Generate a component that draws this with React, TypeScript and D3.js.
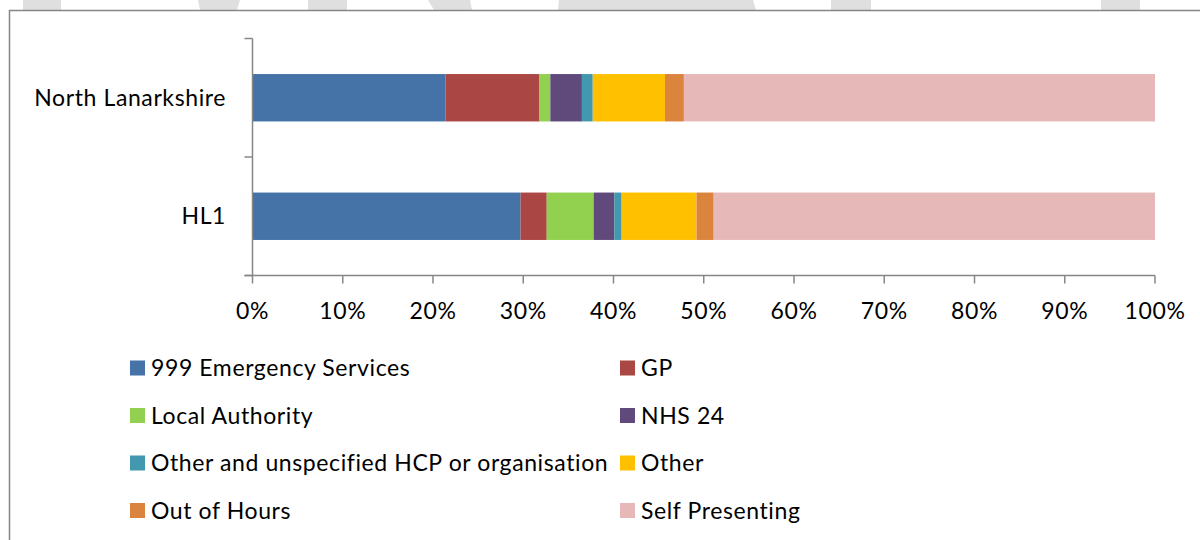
import React from 'react';
import * as d3 from 'd3';

// data
const categories = ['North Lanarkshire', 'HL1'];
const sources = [
  '999 Emergency Services',
  'GP',
  'Local Authority',
  'NHS 24',
  'Other and unspecified HCP or organisation',
  'Other',
  'Out of Hours',
  'Self Presenting',
];
// percentage share of each source, same order as sources
const northLanarkshire = [21.4, 10.4, 1.2, 3.5, 1.2, 8.0, 2.1, 52.2];
const hl1 = [29.7, 2.9, 5.2, 2.3, 0.8, 8.3, 1.9, 48.9];
const colors = ['#4572A7', '#AA4643', '#92D050', '#604A7B', '#4198AF', '#FFC000', '#DB843D', '#E6B9B8'];

const width = 1200;
const height = 540;
const font = 'Lato, "Open Sans", sans-serif';
const fontSize = 23;
const spacing = 0.6;
const axisColor = '#868686';

export default function App() {
  const rows = categories.map((c, i) => {
    const vals = i === 0 ? northLanarkshire : hl1;
    const row: Record<string, any> = { category: c };
    sources.forEach((s, j) => (row[s] = vals[j]));
    return row;
  });
  const series = d3.stack<any>().keys(sources).offset(d3.stackOffsetExpand)(rows);

  const x = d3.scaleLinear().domain([0, 1]).range([252.5, 1155]);
  const y = d3.scaleBand().domain(categories).range([38.5, 275.5]).paddingInner(0.6).paddingOuter(0.3);
  const color = d3.scaleOrdinal<string, string>().domain(sources).range(colors);
  const fmt = d3.format('.0%');
  const xTicks = x.ticks(10);
  const [y0, y1] = y.range();
  const bounds = d3.range(categories.length + 1).map((i) => y0 + i * y.step());

  // legend: two columns, filled row by row
  const legendCols = [130, 620];
  const legendRows = [376, 423.5, 471, 518.5];

  const textProps = { fontFamily: font, fontSize, letterSpacing: spacing, fill: '#000' };

  return (
    <svg width={width} height={height} style={{ position: 'absolute', left: 0, top: 0, background: '#fff' }}>
      {/* watermark remnants at the top edge */}
      <g fill='#dfdfdf'>
        <polygon points='23,0 61,0 61,10 23,10' />
        <polygon points='198,0 240,0 237,10 200,10' />
        <polygon points='308,0 347,0 347,10 308,10' />
        <polygon points='428,0 470,0 472,10 434,10' />
        <polygon points='559,0 753,0 756,10 558,10' />
        <polygon points='831,0 871,0 871,10 831,10' />
        <polygon points='1101,0 1140,0 1140,10 1101,10' />
      </g>
      <path d='M1200,10.5H9.5V540' fill='none' stroke={axisColor} strokeWidth={1.5} />

      {/* bars */}
      {series.map((s) => (
        <g key={s.key} fill={color(s.key)}>
          {s.map((d) => (
            <rect
              key={d.data.category}
              x={x(d[0])}
              y={y(d.data.category)}
              width={x(d[1]) - x(d[0])}
              height={y.bandwidth()}
            />
          ))}
        </g>
      ))}

      {/* y axis */}
      <g stroke={axisColor} strokeWidth={1.5}>
        <line x1={x(0)} x2={x(0)} y1={y0} y2={y1} />
        {bounds.map((b) => (
          <line key={b} x1={x(0) - 8} x2={x(0)} y1={b} y2={b} />
        ))}
      </g>
      {categories.map((c) => (
        <text key={c} x={226} y={y(c)! + y.bandwidth() / 2 + 8} textAnchor='end' {...textProps}>
          {c}
        </text>
      ))}

      {/* x axis */}
      <g stroke={axisColor} strokeWidth={1.5}>
        <line x1={x(0) - 8} x2={x(1)} y1={y1} y2={y1} />
        {xTicks.map((t) => (
          <line key={t} x1={x(t)} x2={x(t)} y1={y1} y2={y1 + 8} />
        ))}
      </g>
      {xTicks.map((t) => (
        <text key={t} x={x(t)} y={319} textAnchor='middle' {...textProps}>
          {fmt(t)}
        </text>
      ))}

      {/* legend */}
      {sources.map((s, i) => {
        const lx = legendCols[i % 2];
        const ly = legendRows[Math.floor(i / 2)];
        return (
          <g key={s}>
            <rect x={lx} y={ly - 15.5} width={15} height={15} fill={color(s)} />
            <text x={lx + 21} y={ly} {...textProps}>
              {s}
            </text>
          </g>
        );
      })}
    </svg>
  );
}
